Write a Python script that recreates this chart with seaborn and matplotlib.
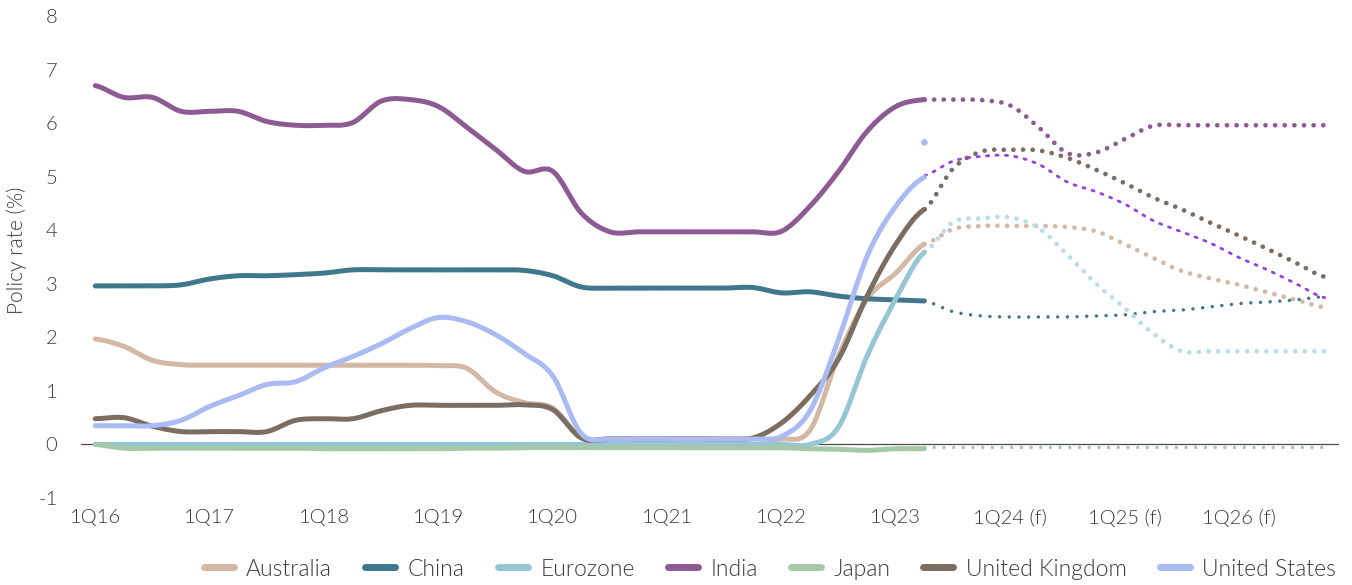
import numpy as np
import pandas as pd
import matplotlib
matplotlib.use("Agg")
import matplotlib.pyplot as plt
from matplotlib.lines import Line2D
import seaborn as sns

# ---- quarters: 1Q16 .. 4Q26 (history to 2Q23, forecast after) ----
quarters = [f"{q}Q{yy:02d}" for yy in range(16, 27) for q in range(1, 5)]
tick_labels = ["1Q16", "1Q17", "1Q18", "1Q19", "1Q20", "1Q21", "1Q22", "1Q23",
               "1Q24 (f)", "1Q25 (f)", "1Q26 (f)"]
HIST_END = 29  # index of 2Q23, where the forecast begins

countries = ["Australia", "China", "Eurozone", "India", "Japan",
             "United Kingdom", "United States"]

# policy rates (%), quarterly, 1Q16 .. 2Q23
australia_hist = [1.97, 1.83, 1.57, 1.49, 1.48, 1.48, 1.48, 1.48, 1.48, 1.48,
                  1.48, 1.48, 1.47, 1.42, 0.98, 0.78, 0.68, 0.13, 0.11, 0.11,
                  0.11, 0.11, 0.11, 0.11, 0.10, 0.27, 1.66, 2.72, 3.20, 3.74]
china_hist = [2.96, 2.96, 2.96, 2.98, 3.09, 3.15, 3.15, 3.17, 3.20, 3.26,
              3.26, 3.26, 3.26, 3.26, 3.26, 3.25, 3.15, 2.94, 2.92, 2.92,
              2.92, 2.92, 2.92, 2.93, 2.83, 2.85, 2.77, 2.72, 2.70, 2.68]
eurozone_hist = [0.00, 0.00, 0.00, 0.00, 0.00, 0.00, 0.00, 0.00, 0.00, 0.00,
                 0.00, 0.00, 0.00, 0.00, 0.00, 0.00, 0.00, 0.00, 0.00, 0.00,
                 0.00, 0.00, 0.00, 0.00, 0.00, 0.00, 0.33, 1.66, 2.72, 3.59]
india_hist = [6.70, 6.48, 6.48, 6.22, 6.22, 6.22, 6.03, 5.96, 5.96, 6.01,
              6.41, 6.44, 6.31, 5.92, 5.51, 5.10, 5.10, 4.32, 3.97, 3.97,
              3.97, 3.97, 3.97, 3.97, 3.98, 4.45, 5.10, 5.85, 6.31, 6.44]
japan_hist = [0.00, -0.07, -0.07, -0.07, -0.07, -0.07, -0.07, -0.07, -0.08, -0.08,
              -0.08, -0.08, -0.08, -0.07, -0.07, -0.06, -0.06, -0.06, -0.06, -0.06,
              -0.06, -0.06, -0.06, -0.06, -0.06, -0.08, -0.09, -0.11, -0.08, -0.08]
uk_hist = [0.48, 0.50, 0.34, 0.24, 0.24, 0.24, 0.24, 0.45, 0.48, 0.48,
           0.63, 0.73, 0.73, 0.73, 0.73, 0.74, 0.65, 0.12, 0.10, 0.10,
           0.10, 0.10, 0.10, 0.12, 0.40, 0.91, 1.60, 2.78, 3.74, 4.39]
us_hist = [0.35, 0.35, 0.35, 0.45, 0.71, 0.91, 1.12, 1.17, 1.43, 1.64,
           1.88, 2.16, 2.37, 2.29, 2.05, 1.70, 1.28, 0.20, 0.10, 0.10,
           0.10, 0.10, 0.10, 0.10, 0.15, 0.63, 1.97, 3.52, 4.45, 4.99]
us_upper_2q23 = 5.64

# forecasts (%), quarterly, 2Q23 .. 4Q26
australia_fc = [3.74, 4.02, 4.08, 4.08, 4.08, 4.06, 3.98, 3.74, 3.48, 3.24,
                3.10, 2.98, 2.84, 2.70, 2.56]
china_fc = [2.68, 2.48, 2.40, 2.38, 2.38, 2.38, 2.40, 2.42, 2.48, 2.51,
            2.57, 2.63, 2.66, 2.70, 2.76]
eurozone_fc = [3.59, 4.15, 4.22, 4.24, 4.04, 3.54, 3.00, 2.55, 2.07, 1.74,
               1.74, 1.74, 1.74, 1.74, 1.74]
india_fc = [6.44, 6.44, 6.43, 6.33, 5.92, 5.44, 5.45, 5.70, 5.95, 5.96,
            5.96, 5.96, 5.96, 5.96, 5.96]
japan_fc = [-0.05, -0.05, -0.05, -0.05, -0.05, -0.05, -0.05, -0.05, -0.05, -0.05,
            -0.05, -0.05, -0.05, -0.05, -0.05]
uk_fc = [4.39, 5.15, 5.47, 5.50, 5.49, 5.35, 5.13, 4.88, 4.61, 4.39,
         4.14, 3.90, 3.65, 3.39, 3.13]
us_fc = [5.02, 5.29, 5.38, 5.39, 5.23, 4.90, 4.72, 4.49, 4.18, 3.97,
         3.76, 3.49, 3.26, 3.00, 2.74]

hist = dict(zip(countries, [australia_hist, china_hist, eurozone_hist, india_hist,
                            japan_hist, uk_hist, us_hist]))
fcst = dict(zip(countries, [australia_fc, china_fc, eurozone_fc, india_fc,
                            japan_fc, uk_fc, us_fc]))

colors = {
    "Australia": "#D3B8A6",
    "China": "#3F788C",
    "Eurozone": "#95C6D6",
    "India": "#8E5A93",
    "Japan": "#A5C8A6",
    "United Kingdom": "#7C6D62",
    "United States": "#AABAF2",
}
fc_colors = dict(colors)
fc_colors["Eurozone"] = "#B9DEE7"
fc_colors["United States"] = "#9642E0"

# dotted forecast styles: (linewidth pt, dash pattern in linewidths)
fc_style = {c: (3.4, (0.01, 2.03)) for c in countries}
fc_style["China"] = (2.5, (0.01, 2.78))
fc_style["Japan"] = (2.5, (0.01, 2.78))
fc_style["United States"] = (2.0, (0.8, 2.6))

TEXT = "#3A3A3A"
FONT_W = 300


def smooth_curve(x, y, steps=16):
    """Catmull-Rom curve through the given points (Excel-like smoothed line)."""
    x = np.asarray(x, float)
    y = np.asarray(y, float)
    px = np.concatenate([[2 * x[0] - x[1]], x, [2 * x[-1] - x[-2]]])
    py = np.concatenate([[y[0]], y, [y[-1]]])
    t = np.linspace(0, 1, steps, endpoint=False)
    xs, ys = [], []
    for i in range(1, len(px) - 2):
        for arr, out in ((px, xs), (py, ys)):
            p0, p1, p2, p3 = arr[i - 1], arr[i], arr[i + 1], arr[i + 2]
            out.append(0.5 * ((2 * p1) + (-p0 + p2) * t
                              + (2 * p0 - 5 * p1 + 4 * p2 - p3) * t ** 2
                              + (-p0 + 3 * p1 - 3 * p2 + p3) * t ** 3))
    xs = np.concatenate(xs + [[x[-1]]])
    ys = np.concatenate(ys + [[y[-1]]])
    return xs, ys


sns.set_theme(style="white")
plt.rcParams["font.family"] = ["Lato", "DejaVu Sans"]
plt.rcParams["font.weight"] = FONT_W
plt.rcParams["text.color"] = TEXT

fig = plt.figure(figsize=(13.52, 5.85), dpi=100)
W, H = 1352, 585
ax = fig.add_axes([81 / W, 1 - 498 / H, (1339 - 81) / W, (498 - 16) / H])

ax.axhline(0, color="#4A4A4A", lw=0.9, zorder=1)

x_hist = np.arange(HIST_END + 1)
x_fc = np.arange(HIST_END, len(quarters))

# forecasts first (dotted), then history on top
for c in countries:
    xs, ys = smooth_curve(x_fc, fcst[c])
    lw, dash = fc_style[c]
    sns.lineplot(x=xs, y=ys, ax=ax, color=fc_colors[c], linewidth=lw,
                 sort=False, estimator=None, legend=False)
    ln = ax.lines[-1]
    ln.set_linestyle((0, dash))
    ln.set_dash_capstyle("round")
    ln.set_zorder(2)

for c in countries:
    xs, ys = smooth_curve(x_hist, hist[c])
    sns.lineplot(x=xs, y=ys, ax=ax, color=colors[c], linewidth=3.6,
                 sort=False, estimator=None, legend=False,
                 solid_capstyle="round", solid_joinstyle="round")
    ax.lines[-1].set_zorder(3)

sns.scatterplot(x=[HIST_END], y=[us_upper_2q23], ax=ax, color=colors["United States"],
                s=22, edgecolor="none", legend=False, zorder=3)

ax.set_xlim(-0.5, len(quarters) - 0.5)
ax.set_ylim(-1, 8)
ax.set_xticks(np.arange(0, len(quarters), 4))
ax.set_xticklabels(tick_labels)
ax.set_yticks(range(-1, 9))
ax.set_yticklabels([str(v) for v in range(-1, 9)])
ax.tick_params(axis="x", length=0, pad=8, labelsize=14.5, labelcolor=TEXT)
ax.tick_params(axis="y", length=0, pad=17, labelsize=14.5, labelcolor=TEXT)
for lab in ax.get_xticklabels() + ax.get_yticklabels():
    lab.set_fontweight(FONT_W)
for s in ax.spines.values():
    s.set_visible(False)
ax.grid(False)
ax.set_xlabel("")
ax.set_ylabel("")

fig.text(17 / W, 1 - 250 / H, "Policy rate (%)", rotation=90, ha="center",
         va="center", fontsize=15, color=TEXT, fontweight=FONT_W)

handles = [Line2D([0], [0], color=colors[c], lw=5, solid_capstyle="round")
           for c in countries]
leg = fig.legend(handles, countries, loc="center", bbox_to_anchor=(770 / W, 1 - 569 / H),
                 ncol=7, frameon=False, handlelength=1.3,
                 handletextpad=0.55, columnspacing=1.45,
                 prop={"size": 16.5, "weight": FONT_W})
for t in leg.get_texts():
    t.set_color(TEXT)

fig.savefig("out.png", dpi=100)
